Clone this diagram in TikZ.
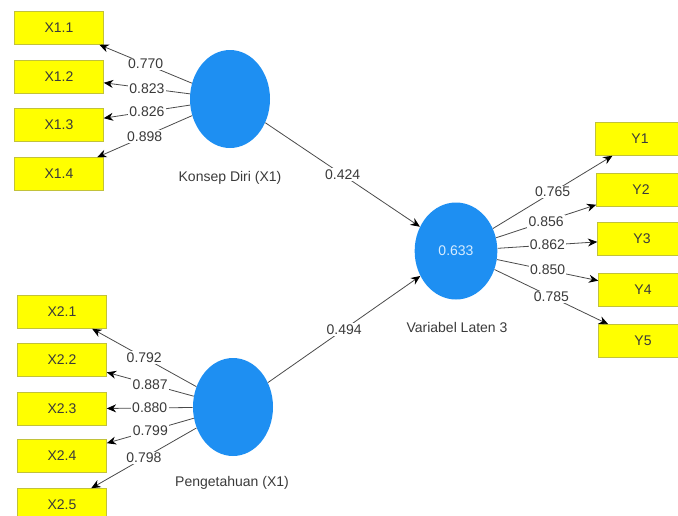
\documentclass[tikz,border=0pt]{standalone}
\usepackage{fontspec}
\setmainfont{Liberation Sans}
\usetikzlibrary{shapes.geometric,arrows.meta,positioning}
\definecolor{indyellow}{HTML}{FFFF00}
\definecolor{boxedge}{HTML}{C2C23A}
\definecolor{latblue}{HTML}{1E8FF2}
\definecolor{linegray}{HTML}{4A4A4A}
\definecolor{txtgray}{HTML}{3A3A3A}
\definecolor{innertxt}{HTML}{D6ECFF}
\tikzset{
  indbox/.style={draw=boxedge, fill=indyellow, minimum width=66.75pt, minimum height=24.75pt, inner sep=0pt, text=txtgray},
  latent/.style={ellipse, fill=latblue, minimum width=60pt, minimum height=73.5pt, inner sep=0pt},
  load/.style={draw=linegray, line width=0.6pt, -{Stealth[length=7pt,width=6pt,color=black]}},
  coef/.style={fill=white, inner sep=1pt, text=txtgray, pos=0.5},
  latlab/.style={text=txtgray}
}
\begin{document}
\begin{tikzpicture}[x=0.75pt,y=-0.75pt,font=\fontsize{10.5}{12}\selectfont]
\clip (0,0) rectangle (678,515);
\def\ind#1#2#3{\node[indbox] (#1) at (#2) {#3};}
% indicators X1
\ind{x11}{59,28}{X1.1}
\ind{x12}{59,77}{X1.2}
\ind{x13}{59,125}{X1.3}
\ind{x14}{59,174}{X1.4}
% indicators X2
\ind{x21}{62,312}{X2.1}
\ind{x22}{62,360}{X2.2}
\ind{x23}{62,409}{X2.3}
\ind{x24}{62,456}{X2.4}
\ind{x25}{62,505}{X2.5}
% indicators Y
\ind{y1}{640,139}{Y1}
\ind{y2}{641,190}{Y2}
\ind{y3}{642,239}{Y3}
\ind{y4}{643,290}{Y4}
\ind{y5}{643,341}{Y5}
% latent variables
\node[latent] (kd) at (230,99) {};
\node[latent] (pg) at (233,407) {};
\node[latent, minimum width=62pt, minimum height=72.75pt, text=innertxt] (vl) at (456,251) {0.633};
\node[latlab] (kdlab) at (230,178) {Konsep Diri (X1)};
\node[latlab] (pglab) at (232,483) {Pengetahuan (X1)};
\node[latlab] (vllab) at (457,327) {Variabel Laten 3};
% outer loadings
\foreach \n/\v in {x11/0.770,x12/0.823,x13/0.826,x14/0.898}
  \draw[load] (kd) -- node[coef] {\v} (\n);
\foreach \n/\v in {x21/0.792,x22/0.887,x23/0.880,x24/0.799,x25/0.798}
  \draw[load] (pg) -- node[coef] {\v} (\n);
\foreach \n/\v in {y1/0.765,y2/0.856,y3/0.862,y4/0.850,y5/0.785}
  \draw[load] (vl) -- node[coef] {\v} (\n);
% path coefficients
\draw[load] (kd) -- node[coef] {0.424} (vl);
\draw[load] (pg) -- node[coef] {0.494} (vl);
\end{tikzpicture}
\end{document}
